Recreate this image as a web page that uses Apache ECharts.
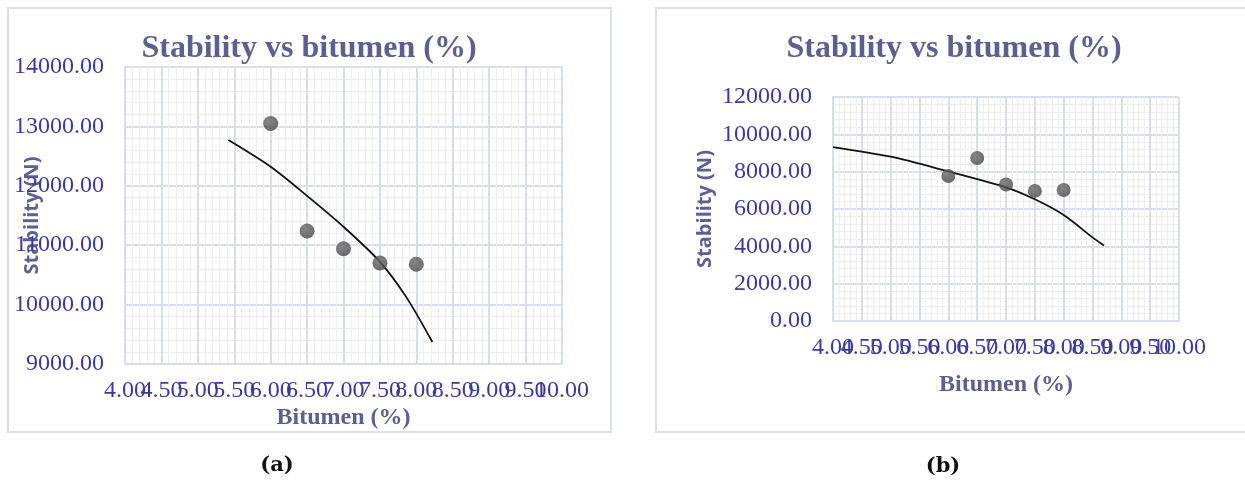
<!DOCTYPE html>
<html>
<head>
<meta charset="utf-8">
<script src="https://cdn.jsdelivr.net/npm/echarts@6/dist/echarts.min.js"></script>
<style>
  html, body { margin: 0; padding: 0; background: #ffffff; }
  #chart { width: 1245px; height: 481px; }
</style>
</head>
<body>
<div id="chart"></div>
<script>
// Marshall test results: stability against bitumen content
const bitumen = [6.0, 6.5, 7.0, 7.5, 8.0];
const stabilityA = [13050, 11240, 10940, 10700, 10680];
const stabilityB = [7770, 8730, 7310, 6970, 7020];

// fitted trend curves, sampled along each curve
const trendAx = [5.42, 6.0, 6.5, 7.0, 7.5, 7.86, 8.22];
const trendAy = [12770, 12320, 11830, 11310, 10720, 10130, 9370];
const trendBx = [4.0, 5.0, 6.0, 7.0, 7.5, 8.0, 8.5, 8.7];
const trendBy = [9320, 8800, 8010, 7160, 6520, 5680, 4480, 4040];

const titleText = 'Stability vs bitumen (%)';
const xName = 'Bitumen (%)';
const yName = 'Stability (N)';
const captions = ['(a)', '(b)'];

const pairs = (xs, ys) => xs.map((x, i) => [x, ys[i]]);

const TITLE_COLOR = '#5c5f8f';
const LABEL_COLOR = '#3a3a9c';
const GRID_MAJOR = '#d9dde8';
const GRID_MINOR = '#eceef4';
const SERIF = '"Liberation Serif", "Times New Roman", serif';
const SANS = '"Open Sans", "Noto Sans", sans-serif';

const fmt = v => v.toFixed(2);
const isWhole = v => Math.abs(v - Math.round(v)) < 1e-9;

// The bitumen labels are packed so tightly that they run into each other;
// whole and half values sit on two stacked axes so every one stays drawn.
function xAxesFor(gridIndex, nameGap) {
  const labelBase = {
    color: LABEL_COLOR, fontFamily: SERIF, fontSize: 24, margin: 15,
    showMinLabel: true, showMaxLabel: true, hideOverlap: false
  };
  return [
    {
      type: 'value', gridIndex, min: 4, max: 10, interval: 0.5,
      name: xName, nameLocation: 'middle', nameGap, nameMoveOverlap: false,
      nameTextStyle: { color: TITLE_COLOR, fontFamily: SERIF, fontWeight: 'bold', fontSize: 24 },
      axisLine: { show: true, lineStyle: { color: GRID_MAJOR, width: 2 } },
      axisTick: { show: false },
      axisLabel: Object.assign({}, labelBase, { formatter: v => isWhole(v) ? fmt(v) : '' }),
      splitLine: { show: true, lineStyle: { color: GRID_MAJOR, width: 2 } },
      minorTick: { show: false, splitNumber: 5 },
      minorSplitLine: { show: true, lineStyle: { color: GRID_MINOR, width: 1 } }
    },
    {
      type: 'value', gridIndex, min: 4, max: 10, interval: 0.5, position: 'bottom',
      axisLine: { show: false }, axisTick: { show: false },
      axisLabel: Object.assign({}, labelBase, { formatter: v => isWhole(v) ? '' : fmt(v) }),
      splitLine: { show: false }, minorSplitLine: { show: false }
    }
  ];
}

function yAxisFor(gridIndex, min, max, interval, nameGap) {
  return {
    type: 'value', gridIndex, min, max, interval,
    name: yName, nameLocation: 'middle', nameGap, nameRotate: 90, nameMoveOverlap: false,
    nameTextStyle: { color: TITLE_COLOR, fontFamily: SANS, fontWeight: 'bold', fontSize: 20 },
    axisLine: { show: true, lineStyle: { color: GRID_MAJOR, width: 2 } },
    axisTick: { show: false },
    axisLabel: {
      color: LABEL_COLOR, fontFamily: SERIF, fontSize: 24, margin: 21,
      showMinLabel: true, showMaxLabel: true, hideOverlap: false,
      formatter: fmt
    },
    splitLine: { show: true, lineStyle: { color: GRID_MAJOR, width: 2 } },
    minorTick: { show: false, splitNumber: 5 },
    minorSplitLine: { show: true, lineStyle: { color: GRID_MINOR, width: 1 } }
  };
}

const dotStyle = {
  color: {
    type: 'radial', x: 0.4, y: 0.35, r: 0.7,
    colorStops: [{ offset: 0, color: '#6a6a6a' }, { offset: 1, color: '#444444' }]
  }
};
const curveStyle = { color: '#111111', width: 1.8 };

const chart = echarts.init(document.getElementById('chart'), null, { renderer: 'canvas' });

const xA = xAxesFor(0, 42);
const xB = xAxesFor(1, 52);

chart.setOption({
  animation: false,
  backgroundColor: '#ffffff',
  grid: [
    { left: 125, top: 67, width: 437, height: 297 },
    { left: 833, top: 97, width: 346, height: 224 }
  ],
  xAxis: [xA[0], xA[1], xB[0], xB[1]],
  yAxis: [
    yAxisFor(0, 9000, 14000, 1000, 83),
    yAxisFor(1, 0, 12000, 2000, 118)
  ],
  series: [
    {
      type: 'line', xAxisIndex: 0, yAxisIndex: 0, smooth: 0.3,
      showSymbol: false, lineStyle: curveStyle, data: pairs(trendAx, trendAy), z: 3
    },
    {
      type: 'scatter', xAxisIndex: 0, yAxisIndex: 0, symbolSize: 15,
      itemStyle: dotStyle, data: pairs(bitumen, stabilityA), z: 4
    },
    {
      type: 'line', xAxisIndex: 2, yAxisIndex: 1, smooth: 0.3,
      showSymbol: false, lineStyle: curveStyle, data: pairs(trendBx, trendBy), z: 3
    },
    {
      type: 'scatter', xAxisIndex: 2, yAxisIndex: 1, symbolSize: 14,
      itemStyle: dotStyle, data: pairs(bitumen, stabilityB), z: 4
    }
  ],
  graphic: [
    // panel frames
    { type: 'rect', shape: { x: 8, y: 8, width: 603, height: 424 },
      style: { fill: 'none', stroke: '#dcdfe7', lineWidth: 2 }, z: -1 },
    { type: 'rect', shape: { x: 656, y: 8, width: 620, height: 424 },
      style: { fill: 'none', stroke: '#dcdfe7', lineWidth: 2 }, z: -1 },
    // chart titles
    { type: 'text', x: 309, y: 49,
      style: { text: titleText, fill: TITLE_COLOR, font: 'bold 32px ' + SERIF,
               textAlign: 'center', textVerticalAlign: 'middle' } },
    { type: 'text', x: 954, y: 49,
      style: { text: titleText, fill: TITLE_COLOR, font: 'bold 32px ' + SERIF,
               textAlign: 'center', textVerticalAlign: 'middle' } },
    // panel captions
    { type: 'text', x: 277, y: 466,
      style: { text: captions[0], fill: '#111111', font: 'bold 21px "DejaVu Serif", serif',
               textAlign: 'center', textVerticalAlign: 'middle' } },
    { type: 'text', x: 943, y: 467,
      style: { text: captions[1], fill: '#111111', font: 'bold 21px "DejaVu Serif", serif',
               textAlign: 'center', textVerticalAlign: 'middle' } }
  ]
});
</script>
</body>
</html>
